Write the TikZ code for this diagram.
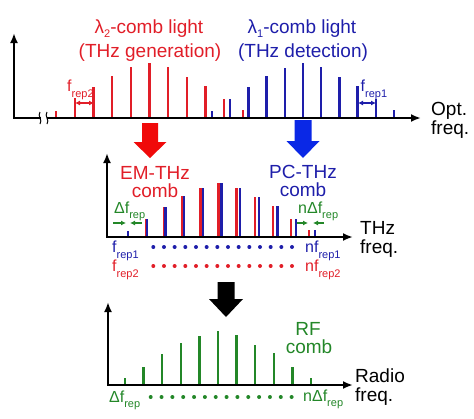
\documentclass[tikz,border=0pt]{standalone}
\usepackage{fontspec}
\setmainfont{Liberation Sans}
\usetikzlibrary{arrows.meta}
\definecolor{combred}{RGB}{225,30,40}
\definecolor{combblue}{RGB}{30,30,170}
\definecolor{combgreen}{RGB}{35,135,40}
\definecolor{arrred}{RGB}{240,10,10}
\definecolor{arrblue}{RGB}{10,40,230}
\newcommand{\rp}[2][6pt]{\raisebox{-#1}{\fontsize{11}{11}\selectfont #2}}

\begin{document}
\begin{tikzpicture}[x=1pt, y=-1pt,
  axis/.style={line width=2.2pt, arrows={Latex[length=10pt,width=8pt]-Latex[length=10pt,width=8pt]}},
  tooth/.style={line width=2.3pt},
  gap/.style={line width=1.3pt, arrows={Latex[length=5pt,width=5pt]-Latex[length=5pt,width=5pt]}},
  pin/.style={line width=1.3pt, combgreen, arrows={-Latex[length=5pt,width=5pt]}},
  lbl/.style={font=\fontsize{19}{22}\selectfont, anchor=base, inner sep=0pt},
  sml/.style={font=\fontsize{16}{16}\selectfont, anchor=base west, inner sep=0pt}]

\useasboundingbox (0,0) rectangle (474,418);

\coordinate (Opt_o) at (14,118);
\coordinate (Opt_y) at (14,33);
\coordinate (Opt_x) at (421,118);
\coordinate (THz_o) at (107,237);
\coordinate (THz_y) at (107,153);
\coordinate (THz_x) at (353,237);
\coordinate (Rad_o) at (108,385);
\coordinate (Rad_y) at (108,302);
\coordinate (Rad_x) at (353,385);

\foreach \h [count=\n from 0] in {7,20,31,42,51,55,51,41,32,19,8}
  \draw[tooth, combred] ({56+18.7*\n},118) -- ++(0,-\h);
\foreach \h [count=\n from 0] in {7,19,31,42,50,55,51,41,32,19,8}
  \draw[tooth, combblue] ({212+18.2*\n},118) -- ++(0,-\h);
\draw[axis] (Opt_y) -- (Opt_o) -- (Opt_x);
\fill[white] (40.5,115) rectangle (46.5,121);
\draw[line width=1pt] (40,112) .. controls (37,116) and (43,120) .. (40,124);
\draw[line width=1pt] (47,112) .. controls (44,116) and (50,120) .. (47,124);

\node[lbl, combred] (lam2_a) at (149,33) {λ\rp[4pt]{2}-comb light};
\node[lbl, combred] (lam2_b) at (150,57) {(THz generation)};
\node[lbl, combblue] (lam1_a) at (302,33) {λ\rp[4pt]{1}-comb light};
\node[lbl, combblue] (lam1_b) at (303,57) {(THz detection)};
\node[lbl, anchor=base west] (Opt_a) at (431,115) {Opt.};
\node[lbl, anchor=base west] (Opt_b) at (431,134) {freq.};

\node[sml, combred] (frep2) at (67,91) {f\rp{rep2}};
\node[sml, combblue] (frep1) at (360.5,91) {f\rp{rep1}};
\coordinate (frep2_l) at (75,103);
\coordinate (frep2_r) at (94,103);
\coordinate (frep1_l) at (358,103);
\coordinate (frep1_r) at (376,103);
\draw[gap, combred] (frep2_l) -- (frep2_r);
\draw[gap, combblue] (frep1_l) -- (frep1_r);

\fill[arrred] (142,123) -- (158,123) -- (158,142) -- (166.5,142) -- (150,158) -- (133.5,142) -- (142,142) -- cycle;
\fill[arrblue] (294.5,120) -- (311.5,120) -- (311.5,141) -- (319.5,141) -- (303,158) -- (286.5,141) -- (294.5,141) -- cycle;

\foreach \h [count=\n from 0] in {6,18,30,41,49,54,49,40,31,18,7}
  \draw[tooth, combred] ({128+18.1*\n},237) -- ++(0,-\h);
\foreach \h [count=\n from 0] in {6,18,30,41,49,54,49,40,31,18,7}
  \draw[tooth, combblue] ({128+18.7*\n},237) -- ++(0,-\h);
\draw[axis] (THz_y) -- (THz_o) -- (THz_x);

\node[lbl, combred] (EM_a) at (155,179) {EM-THz};
\node[lbl, combred] (EM_b) at (155,197) {comb};
\node[lbl, combblue] (PC_a) at (303,178) {PC-THz};
\node[lbl, combblue] (PC_b) at (303,196) {comb};
\node[lbl, anchor=base west] (THz_a) at (360,234) {THz};
\node[lbl, anchor=base west] (THz_b) at (360,253.5) {freq.};

\node[sml, combgreen] (dfrep) at (114,213) {Δf\rp[5pt]{rep}};
\node[sml, combgreen] (ndfrep) at (298,213) {nΔf\rp[5pt]{rep}};
\coordinate (dfrep_l) at (113,223);
\coordinate (dfrep_r) at (142,223);
\coordinate (ndfrep_l) at (297,223);
\coordinate (ndfrep_r) at (324,223);
\draw[pin] (dfrep_l) -- (126,223);
\draw[pin] (dfrep_r) -- (130,223);
\draw[pin] (ndfrep_l) -- (308,223);
\draw[pin] (ndfrep_r) -- (313,223);

\foreach \k in {0,...,13} {
  \fill[combblue] ({153.3+10.67*\k},247) circle (2pt);
  \fill[combred] ({153.3+10.67*\k},266) circle (2pt);
}
\node[sml, combblue] (frep1_m) at (112,252) {f\rp{rep1}};
\node[sml, combred] (frep2_m) at (112,271) {f\rp{rep2}};
\node[sml, combblue] (nfrep1) at (305,252) {nf\rp{rep1}};
\node[sml, combred] (nfrep2) at (305,271) {nf\rp{rep2}};

\fill[black] (217.5,282) -- (234.5,282) -- (234.5,299) -- (243,299) -- (226,317) -- (209,299) -- (217.5,299) -- cycle;

\foreach \h [count=\n from 0] in {7,18,31,42,49,54,50,40,32,18,7}
  \draw[tooth, combgreen] ({125+18.6*\n},385) -- ++(0,-\h);
\draw[axis] (Rad_y) -- (Rad_o) -- (Rad_x);

\node[lbl, combgreen] (RF_a) at (308,335) {RF};
\node[lbl, combgreen] (RF_b) at (309,353) {comb};
\node[lbl, anchor=base west] (Rad_a) at (355,382) {Radio};
\node[lbl, anchor=base west] (Rad_b) at (355,401) {freq.};

\foreach \k in {0,...,13}
  \fill[combgreen] ({150.7+10.84*\k},397) circle (2pt);
\node[sml, combgreen] (dfrep_b) at (109,402) {Δf\rp[5pt]{rep}};
\node[sml, combgreen] (ndfrep_b) at (303,401) {nΔf\rp[5pt]{rep}};

\end{tikzpicture}
\end{document}
